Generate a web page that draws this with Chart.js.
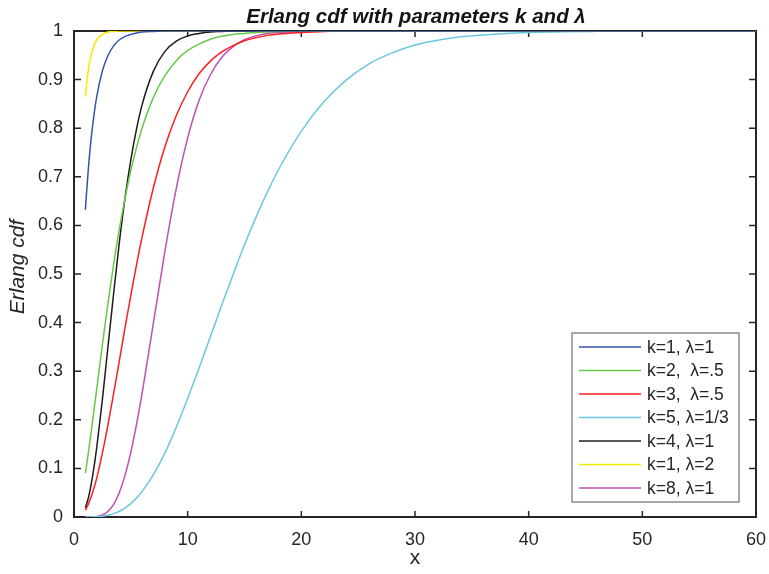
<!DOCTYPE html>
<html>
<head>
<meta charset="utf-8">
<script src="https://cdn.jsdelivr.net/npm/chart.js@4.4.1/dist/chart.umd.min.js"></script>
<style>
  html, body { margin: 0; padding: 0; background: #ffffff; }
  #wrap { width: 769px; height: 574px; }
</style>
</head>
<body>
<div id="wrap"><canvas id="c" width="769" height="574"></canvas></div>
<script>
// Sample positions along x shared by every curve
const xValues = [1, 1.25, 1.5, 1.75, 2, 2.5, 3, 3.5, 4, 4.5, 5, 5.5, 6, 7, 8, 9, 10, 11, 12, 13, 14, 15, 16, 17, 18,
                 20, 22, 24, 26, 28, 30, 32, 34, 36, 38, 40, 43, 46, 50, 55, 60];

// Erlang cdf values, one list per (k, lambda) pair
const cdfK1L1 = [0.632, 0.713, 0.777, 0.826, 0.865, 0.918, 0.950, 0.970, 0.982, 0.989, 0.993, 0.996, 0.998, 0.999, 1, 1, 1, 1, 1, 1, 1, 1, 1, 1, 1,
                 1, 1, 1, 1, 1, 1, 1, 1, 1, 1, 1, 1, 1, 1, 1, 1];
const cdfK2L05 = [0.090, 0.130, 0.173, 0.218, 0.264, 0.355, 0.442, 0.522, 0.594, 0.657, 0.713, 0.760, 0.801, 0.864, 0.908, 0.939, 0.960, 0.973, 0.983, 0.989, 0.993, 0.995, 0.997, 0.998, 0.999,
                  1, 1, 1, 1, 1, 1, 1, 1, 1, 1, 1, 1, 1, 1, 1, 1];
const cdfK3L05 = [0.014, 0.026, 0.041, 0.059, 0.080, 0.132, 0.191, 0.256, 0.323, 0.391, 0.456, 0.519, 0.577, 0.679, 0.762, 0.826, 0.875, 0.912, 0.938, 0.957, 0.970, 0.980, 0.986, 0.991, 0.994,
                  0.997, 0.999, 1, 1, 1, 1, 1, 1, 1, 1, 1, 1, 1, 1, 1, 1];
const cdfK5L033 = [0.0000, 0.0001, 0.0002, 0.0003, 0.0006, 0.0017, 0.0037, 0.0069, 0.0118, 0.0186, 0.0275, 0.0389, 0.0527, 0.0877, 0.132, 0.185, 0.244, 0.306, 0.371, 0.436, 0.499, 0.560, 0.616, 0.668, 0.715,
                   0.794, 0.855, 0.900, 0.933, 0.955, 0.971, 0.981, 0.988, 0.992, 0.995, 0.997, 0.9986, 0.9993, 0.9998, 1, 1];
const cdfK4L1 = [0.019, 0.038, 0.066, 0.101, 0.143, 0.242, 0.353, 0.463, 0.567, 0.658, 0.735, 0.798, 0.849, 0.918, 0.958, 0.979, 0.990, 0.995, 0.998, 0.999, 1, 1, 1, 1, 1,
                 1, 1, 1, 1, 1, 1, 1, 1, 1, 1, 1, 1, 1, 1, 1, 1];
const cdfK1L2 = [0.865, 0.918, 0.950, 0.970, 0.982, 0.993, 0.998, 0.999, 1, 1, 1, 1, 1, 1, 1, 1, 1, 1, 1, 1, 1, 1, 1, 1, 1,
                 1, 1, 1, 1, 1, 1, 1, 1, 1, 1, 1, 1, 1, 1, 1, 1];
const cdfK8L1 = [0.0000, 0.0000, 0.0002, 0.0005, 0.0011, 0.0042, 0.0119, 0.0267, 0.0511, 0.0866, 0.1334, 0.1905, 0.2560, 0.4013, 0.547, 0.676, 0.780, 0.857, 0.910, 0.946, 0.968, 0.982, 0.990, 0.995, 0.997,
                 0.999, 1, 1, 1, 1, 1, 1, 1, 1, 1, 1, 1, 1, 1, 1, 1];

const seriesLabels = ['k=1, \u03bb=1', 'k=2,  \u03bb=.5', 'k=3,  \u03bb=.5', 'k=5, \u03bb=1/3', 'k=4, \u03bb=1', 'k=1, \u03bb=2', 'k=8, \u03bb=1'];
const seriesValues = [cdfK1L1, cdfK2L05, cdfK3L05, cdfK5L033, cdfK4L1, cdfK1L2, cdfK8L1];
const seriesColors = ['#3654ad', '#66c84a', '#ff1e1e', '#68c9de', '#1c1c1c', '#f6ea00', '#bf4fb3'];

const xTickValues = [0, 10, 20, 30, 40, 50, 60];
const xTickLabels = ['0', '10', '20', '30', '40', '50', '60'];
const yTickValues = [0, 0.1, 0.2, 0.3, 0.4, 0.5, 0.6, 0.7, 0.8, 0.9, 1];
const yTickLabels = ['0', '0.1', '0.2', '0.3', '0.4', '0.5', '0.6', '0.7', '0.8', '0.9', '1'];

const titleText = 'Erlang cdf with parameters k and \u03bb';
const xAxisTitle = 'x';
const yAxisTitle = 'Erlang cdf';

const FONT = "'Liberation Sans', Arial, Helvetica, sans-serif";
const AXIS_COLOR = '#262626';

// Boxed axes with inward ticks, titles and an in-plot legend
const framePlugin = {
  id: 'frame',
  beforeDatasetsDraw(chart) {
    const { ctx, chartArea: a, scales } = chart;
    const xs = scales.x, ys = scales.y;
    ctx.save();
    ctx.strokeStyle = AXIS_COLOR;
    ctx.lineWidth = 2;
    ctx.strokeRect(a.left, a.top, a.right - a.left, a.bottom - a.top);
    ctx.lineWidth = 1.5;
    ctx.beginPath();
    xTickValues.forEach(v => {
      const px = xs.getPixelForValue(v);
      ctx.moveTo(px, a.bottom); ctx.lineTo(px, a.bottom - 6);
      ctx.moveTo(px, a.top); ctx.lineTo(px, a.top + 6);
    });
    yTickValues.forEach(v => {
      const py = ys.getPixelForValue(v);
      ctx.moveTo(a.left, py); ctx.lineTo(a.left + 7, py);
      ctx.moveTo(a.right, py); ctx.lineTo(a.right - 7, py);
    });
    ctx.stroke();
    ctx.restore();
  },
  afterDraw(chart) {
    const { ctx, chartArea: a } = chart;
    ctx.save();

    // Title
    ctx.fillStyle = '#141414';
    ctx.font = 'italic bold 20.5px ' + FONT;
    ctx.textAlign = 'center';
    ctx.textBaseline = 'alphabetic';
    ctx.fillText(titleText, 416, 23);

    // Axis titles
    ctx.fillStyle = AXIS_COLOR;
    ctx.font = '21px ' + FONT;
    ctx.fillText(xAxisTitle, (a.left + a.right) / 2, 564);
    ctx.save();
    ctx.translate(24, 267);
    ctx.rotate(-Math.PI / 2);
    ctx.font = 'italic 21px ' + FONT;
    ctx.fillText(yAxisTitle, 0, 0);
    ctx.restore();

    // Legend box
    const bx = 572, by = 333, bw = 167, bh = 169;
    ctx.fillStyle = '#ffffff';
    ctx.fillRect(bx, by, bw, bh);
    ctx.strokeStyle = '#7a7a7a';
    ctx.lineWidth = 1.3;
    ctx.strokeRect(bx, by, bw, bh);
    ctx.font = '17.5px ' + FONT;
    ctx.textAlign = 'left';
    ctx.textBaseline = 'middle';
    chart.data.datasets.forEach((ds, i) => {
      const ry = 347 + i * 23.5;
      ctx.strokeStyle = ds.borderColor;
      ctx.lineWidth = 1.5;
      ctx.beginPath();
      ctx.moveTo(579, ry); ctx.lineTo(641, ry);
      ctx.stroke();
      ctx.fillStyle = AXIS_COLOR;
      ctx.fillText(ds.label, 647, ry + 1);
    });
    ctx.restore();
  }
};

const datasets = seriesLabels.map((label, i) => ({
  label: label,
  data: xValues.map((x, j) => ({ x: x, y: seriesValues[i][j] })),
  borderColor: seriesColors[i],
  backgroundColor: seriesColors[i],
  borderWidth: 1.5,
  pointRadius: 0,
  fill: false,
  cubicInterpolationMode: 'monotone'
}));

new Chart(document.getElementById('c'), {
  type: 'line',
  data: { datasets: datasets },
  options: {
    responsive: false,
    animation: false,
    devicePixelRatio: 1,
    layout: { padding: { top: 31, right: 13, left: 0, bottom: 0 } },
    plugins: {
      legend: { display: false },
      tooltip: { enabled: false },
      title: { display: false }
    },
    scales: {
      x: {
        type: 'linear',
        min: 0, max: 60,
        grid: { display: false, drawTicks: false },
        border: { display: false },
        afterBuildTicks(scale) { scale.ticks = xTickValues.map(v => ({ value: v })); },
        afterFit(scale) { scale.height = 57; scale.paddingLeft = 0; scale.paddingRight = 0; },
        ticks: {
          autoSkip: false, maxRotation: 0, padding: 12,
          color: AXIS_COLOR,
          font: { family: FONT, size: 18 },
          callback: (v) => xTickLabels[xTickValues.indexOf(v)]
        }
      },
      y: {
        type: 'linear',
        min: 0, max: 1,
        grid: { display: false, drawTicks: false },
        border: { display: false },
        afterBuildTicks(scale) { scale.ticks = yTickValues.map(v => ({ value: v })); },
        afterFit(scale) { scale.width = 74; scale.paddingTop = 0; scale.paddingBottom = 0; },
        ticks: {
          autoSkip: false, padding: 11,
          color: AXIS_COLOR,
          font: { family: FONT, size: 18 },
          callback: (v) => yTickLabels[yTickValues.indexOf(v)]
        }
      }
    }
  },
  plugins: [framePlugin]
});
</script>
</body>
</html>
